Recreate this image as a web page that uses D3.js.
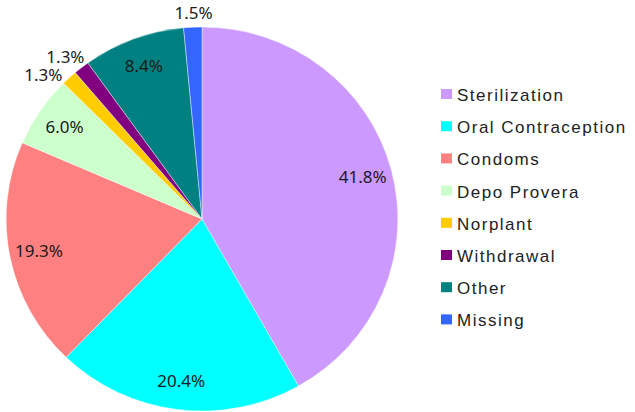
<!DOCTYPE html>
<html>
<head>
<meta charset="utf-8">
<script src="https://cdn.jsdelivr.net/npm/d3@7"></script>
<style>
  body { margin: 0; background: #fff; }
  svg { display: block; }
  .lbl { font-family: "Noto Sans", sans-serif; font-size: 17px; fill: #1a1a1a; }
  .leg { font-family: "Liberation Sans", Arial, sans-serif; font-size: 17px; fill: #222; letter-spacing: 1.5px; }
</style>
</head>
<body>
<svg id="chart" width="635" height="412"></svg>
<script>
// Data

var categories = ["Sterilization", "Oral Contraception", "Condoms", "Depo Provera", "Norplant", "Withdrawal", "Other", "Missing"];
var shares = [41.8, 20.4, 19.3, 6.0, 1.3, 1.3, 8.4, 1.5];
var colors = ["#CC99FF", "#00FFFF", "#FF8080", "#CCFFCC", "#FFCC00", "#800080", "#008080", "#3366FF"];

// Layout

var cx = 202, cy = 219, r = 192, sx = 1.02;
var insideR = 163;
// small slices get their label outside; crowded ones are turned back a bit (degrees)
var outsideNudge = {"Norplant": -3, "Withdrawal": 0, "Missing": 0.5};

var svg = d3.select("#chart");
var g = svg.append("g").attr("transform", "translate(" + cx + "," + cy + ")");

var data = categories.map(function(c, i) { return {label: c, value: shares[i], color: colors[i]}; });

var pie = d3.pie().sort(null).value(function(d) { return d.value; });
var arc = d3.arc().innerRadius(0).outerRadius(r);
var arcs = pie(data);

g.append("g").attr("transform", "scale(" + sx + ",1)")
  .selectAll("path")
  .data(arcs)
  .enter().append("path")
  .attr("d", arc)
  .attr("fill", function(d) { return d.data.color; })
  .attr("stroke", "#fff")
  .attr("stroke-width", 0.4);

g.selectAll("text.lbl")
  .data(arcs)
  .enter().append("text")
  .attr("class", "lbl")
  .attr("text-anchor", "middle")
  .attr("dy", "0.35em")
  .attr("transform", function(d) {
    var mid = (d.startAngle + d.endAngle) / 2;
    var x, y;
    if (d.data.value < 2) {
      var a = mid + (outsideNudge[d.data.label] || 0) * Math.PI / 180;
      var ux = Math.sin(a), uy = -Math.cos(a);
      var rr = r + 6;
      x = ux * rr * sx + ux * 20;
      y = uy * rr + uy * 8;
    } else {
      x = Math.sin(mid) * insideR * sx;
      y = -Math.cos(mid) * insideR;
    }
    return "translate(" + x + "," + y + ")";
  })
  .text(function(d) { return d.data.value.toFixed(1) + "%"; });

// Legend

var legend = svg.append("g").attr("transform", "translate(441,95)");
var row = legend.selectAll("g")
  .data(data)
  .enter().append("g")
  .attr("transform", function(d, i) { return "translate(0," + (i * 32.2) + ")"; });

row.append("rect")
  .attr("x", 0).attr("y", -6)
  .attr("width", 11).attr("height", 10)
  .attr("fill", function(d) { return d.color; });

row.append("text")
  .attr("class", "leg")
  .attr("x", 16)
  .attr("dy", "0.35em")
  .text(function(d) { return d.label; });
</script>
</body>
</html>
